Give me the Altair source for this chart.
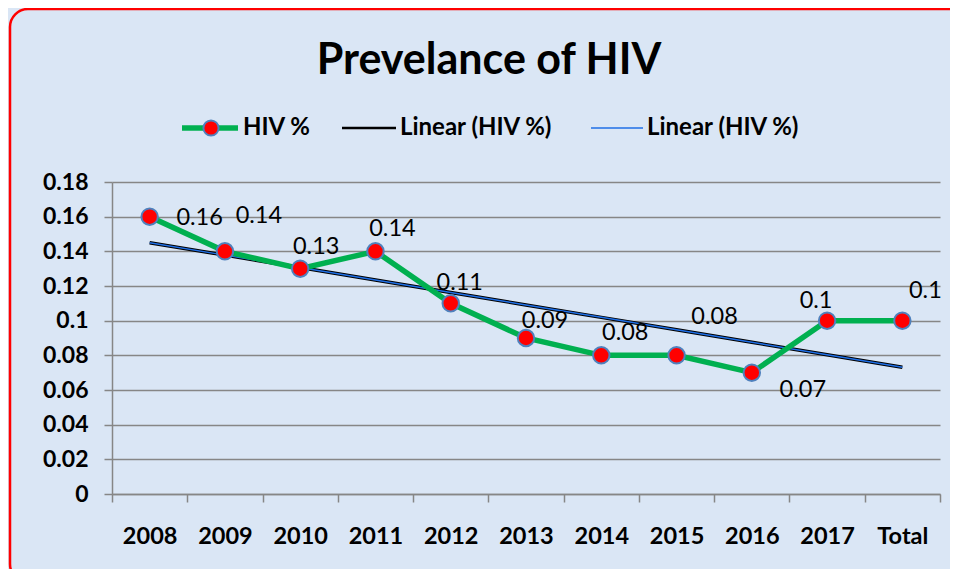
import altair as alt
import numpy as np
import pandas as pd

categories = ["2008", "2009", "2010", "2011", "2012", "2013", "2014", "2015", "2016", "2017", "Total"]
hiv_pct = [0.16, 0.14, 0.13, 0.14, 0.11, 0.09, 0.08, 0.08, 0.07, 0.10, 0.10]
y_ticks = [0, 0.02, 0.04, 0.06, 0.08, 0.10, 0.12, 0.14, 0.16, 0.18]

# data-label pixel offsets (Excel-like label placement)
label_dx = [50, 34, 16, 17, 9, 19, 24, 38, 51, -11, 23]
label_dy = [1, -35, -22, -22, -20, -17, -22, -38, 17, -20, -30]

# linear trend (Excel "Linear" trendline) fitted on the series
idx = np.arange(1, len(hiv_pct) + 1)
slope, intercept = np.polyfit(idx, hiv_pct, 1)
trend = [float(slope * i + intercept) for i in idx]

df = pd.DataFrame({"cat": categories, "v": hiv_pct, "trend": trend})

FONT = "Lato"
BG = "#dae6f5"
GRID = "#868686"

x_enc = alt.X("cat:N", sort=categories, title=None,
              scale=alt.Scale(type="band", paddingInner=0, paddingOuter=0),
              axis=alt.Axis(labelFont=FONT, labelFontSize=23.5, labelFontWeight="bold",
                            labelColor="black", labelAngle=0, labelPadding=22,
                            labelOverlap=False,
                            tickBand="extent", tickSize=8, tickColor=GRID, tickWidth=1.5,
                            domainColor=GRID, domainWidth=1.5, grid=False))

y_axis = alt.Axis(values=y_ticks, format=".2~f", labelFont=FONT, labelFontSize=23,
                  labelFontWeight="bold", labelColor="black", labelPadding=16,
                  labelOverlap=False, tickCount=10,
                  tickSize=8, tickColor=GRID, tickWidth=1.5,
                  domainColor=GRID, domainWidth=1.5,
                  grid=True, gridColor=GRID, gridWidth=1.5)
y_scale = alt.Scale(domain=[0, 0.18], nice=False, zero=True)


def y_for(field):
    return alt.Y(f"{field}:Q", title=None, scale=y_scale, axis=y_axis)


base = alt.Chart(df)

trend_black = base.mark_line(color="black", strokeWidth=3.5).encode(x=x_enc, y=y_for("trend"))
trend_blue = base.mark_line(color="#1f6fe6", strokeWidth=1.5).encode(x=x_enc, y=y_for("trend"))
series_line = base.mark_line(color="#00b050", strokeWidth=5.5).encode(x=x_enc, y=y_for("v"))
series_pts = base.mark_point(shape="circle", filled=True, fill="#ff0000", stroke="#4f81bd",
                             strokeWidth=2, size=270, opacity=1).encode(x=x_enc, y=y_for("v"))

label_layers = []
for cat, dx, dy in zip(categories, label_dx, label_dy):
    label_layers.append(
        base.transform_filter(alt.datum.cat == cat)
        .mark_text(font=FONT, fontSize=23.5, color="black", dx=dx, dy=dy, baseline="middle")
        .encode(x=x_enc, y=y_for("v"), text=alt.Text("v:Q", format=".2~f"))
    )

one = pd.DataFrame({"k": [0]})
legend_y = -54
LFS = 24
lg = alt.Chart(one)
legend_layers = [
    lg.mark_rule(color="#00b050", strokeWidth=5.5).encode(x=alt.value(70), x2=alt.value(126), y=alt.value(legend_y)),
    lg.mark_point(shape="circle", filled=True, fill="#ff0000", stroke="#4f81bd", strokeWidth=2,
                  size=230, opacity=1).encode(x=alt.value(99), y=alt.value(legend_y)),
    lg.mark_text(font=FONT, fontSize=LFS, fontWeight="bold", align="left", baseline="middle",
                 color="black").encode(x=alt.value(131), y=alt.value(legend_y), text=alt.value("HIV %")),
    lg.mark_rule(color="black", strokeWidth=2.5).encode(x=alt.value(230), x2=alt.value(284), y=alt.value(legend_y)),
    lg.mark_text(font=FONT, fontSize=LFS, fontWeight="bold", align="left", baseline="middle",
                 color="black").encode(x=alt.value(288), y=alt.value(legend_y), text=alt.value("Linear (HIV %)")),
    lg.mark_rule(color="#1f6fe6", strokeWidth=1.5).encode(x=alt.value(479), x2=alt.value(531), y=alt.value(legend_y)),
    lg.mark_text(font=FONT, fontSize=LFS, fontWeight="bold", align="left", baseline="middle",
                 color="black").encode(x=alt.value(535), y=alt.value(legend_y), text=alt.value("Linear (HIV %)")),
    lg.mark_text(font=FONT, fontSize=43, fontWeight="bold", align="center", baseline="alphabetic",
                 color="black").encode(x=alt.value(377), y=alt.value(-108), text=alt.value("Prevelance of HIV")),
    lg.mark_rect(fill=None, stroke="#ff0000", strokeWidth=2.5, cornerRadius=18).encode(
        x=alt.value(-102), x2=alt.value(860), y=alt.value(-173), y2=alt.value(400)),
]

chart = alt.layer(
    trend_black, trend_blue, series_line, series_pts, *label_layers, *legend_layers
).properties(
    width=828, height=312,
    autosize=alt.AutoSizeParams(type="none"),
    padding={"left": 104, "top": 174, "right": 10, "bottom": 75},
    background=BG,
).configure_view(stroke=None)

chart.save("out.html", embed_options={"renderer": "svg", "actions": False})
